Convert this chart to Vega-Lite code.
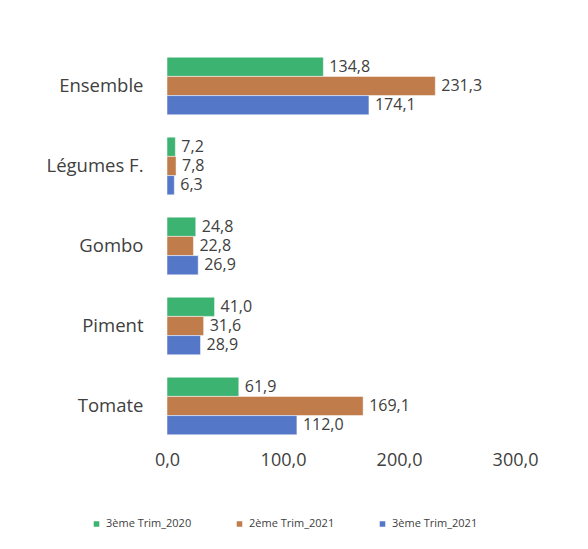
{
  "$schema": "https://vega.github.io/schema/vega-lite/v6.json",
  "width": 348,
  "height": 400,
  "padding": {"left": 46, "top": 46, "right": 10, "bottom": 10},
  "background": "white",
  "config": {
    "locale": {"number": {"decimal": ",", "thousands": " ", "grouping": [3], "currency": ["", ""]}},
    "view": {"stroke": null},
    "font": "Open Sans"
  },
  "data": {
    "values": [
      {"cat": "Ensemble", "serie": "3ème Trim_2020", "v": 134.8},
      {"cat": "Ensemble", "serie": "2ème Trim_2021", "v": 231.3},
      {"cat": "Ensemble", "serie": "3ème Trim_2021", "v": 174.1},
      {"cat": "Légumes F.", "serie": "3ème Trim_2020", "v": 7.2},
      {"cat": "Légumes F.", "serie": "2ème Trim_2021", "v": 7.8},
      {"cat": "Légumes F.", "serie": "3ème Trim_2021", "v": 6.3},
      {"cat": "Gombo", "serie": "3ème Trim_2020", "v": 24.8},
      {"cat": "Gombo", "serie": "2ème Trim_2021", "v": 22.8},
      {"cat": "Gombo", "serie": "3ème Trim_2021", "v": 26.9},
      {"cat": "Piment", "serie": "3ème Trim_2020", "v": 41.0},
      {"cat": "Piment", "serie": "2ème Trim_2021", "v": 31.6},
      {"cat": "Piment", "serie": "3ème Trim_2021", "v": 28.9},
      {"cat": "Tomate", "serie": "3ème Trim_2020", "v": 61.9},
      {"cat": "Tomate", "serie": "2ème Trim_2021", "v": 169.1},
      {"cat": "Tomate", "serie": "3ème Trim_2021", "v": 112.0}
    ]
  },
  "encoding": {
    "y": {
      "field": "cat", "type": "nominal",
      "sort": ["Ensemble", "Légumes F.", "Gombo", "Piment", "Tomate"],
      "scale": {"paddingInner": 0.28, "paddingOuter": 0.14},
      "axis": {"title": null, "domain": false, "ticks": false, "labelFontSize": 18.5, "labelColor": "#404040", "labelPadding": 24}
    },
    "yOffset": {
      "field": "serie", "type": "nominal",
      "sort": ["3ème Trim_2020", "2ème Trim_2021", "3ème Trim_2021"]
    },
    "x": {
      "field": "v", "type": "quantitative",
      "scale": {"domain": [0, 300], "nice": false},
      "axis": {"title": null, "domain": false, "ticks": false, "grid": false, "labelFlush": false, "values": [0, 100, 200, 300], "format": ".1f", "labelFontSize": 18, "labelColor": "#404040", "labelPadding": 5}
    }
  },
  "layer": [
    {
      "mark": {"type": "bar", "stroke": "#ffffff", "strokeWidth": 0.5},
      "encoding": {
        "color": {
          "field": "serie", "type": "nominal",
          "sort": ["3ème Trim_2020", "2ème Trim_2021", "3ème Trim_2021"],
          "scale": {"domain": ["3ème Trim_2020", "2ème Trim_2021", "3ème Trim_2021"], "range": ["#3cb371", "#c07c4a", "#5577c8"]},
          "legend": {"title": null, "orient": "none", "legendX": -76, "legendY": 472, "direction": "horizontal", "symbolType": "square", "symbolSize": 50, "labelFontSize": 11, "labelColor": "#404040", "columnPadding": 40}
        }
      }
    },
    {
      "mark": {"type": "text", "align": "left", "dx": 6, "fontSize": 16, "color": "#404040"},
      "encoding": {
        "text": {"field": "v", "type": "quantitative", "format": ".1f"}
      }
    }
  ]
}
